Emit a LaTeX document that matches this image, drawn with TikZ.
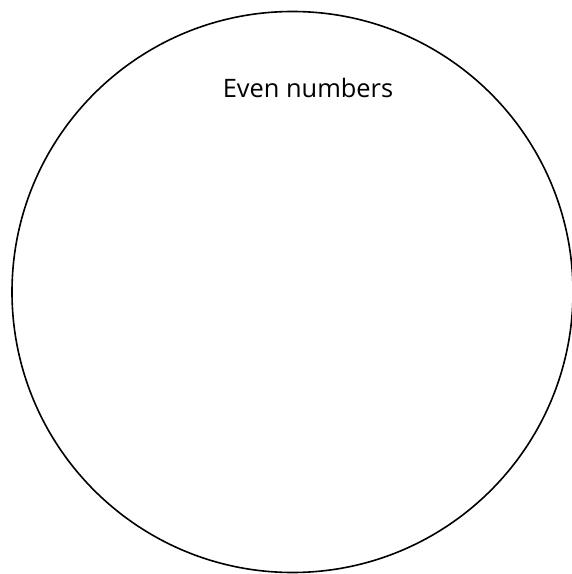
\documentclass[tikz,border=0pt]{standalone}
\usepackage{fontspec}
\setmainfont{Open Sans}
\begin{document}
\begin{tikzpicture}[x=1pt,y=1pt,
  ring/.style={draw=black,line width=1.6pt},
  label/.style={font=\fontsize{25.4}{30}\selectfont,text=black,inner sep=0pt}]
\useasboundingbox (0,0) rectangle (572,574);
\begin{scope}
\clip (0,0) rectangle (572,574);
\node[ring,circle,minimum size=561pt,inner sep=0pt] (c) at (292.5,282) {};
\end{scope}
\node[label] (t) at (308,486) {Even numbers};
\end{tikzpicture}
\end{document}
